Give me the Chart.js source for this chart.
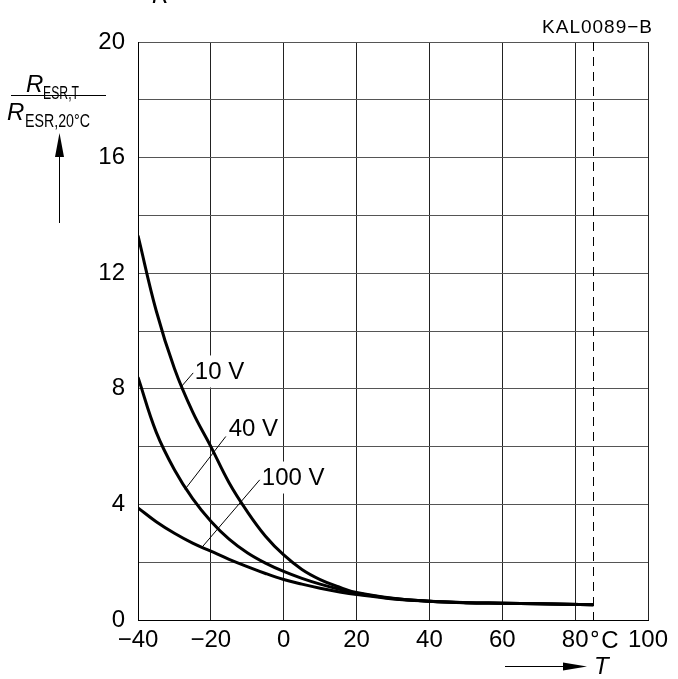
<!DOCTYPE html>
<html><head><meta charset="utf-8">
<script src="https://cdn.jsdelivr.net/npm/chart.js@4.4.1/dist/chart.umd.min.js"></script>
<style>html,body{margin:0;padding:0;background:#fff}#wrap{width:678px;height:679px}</style>
</head><body><div id="wrap"><canvas id="c" width="678" height="679"></canvas></div>
<script>
// Data
const temps = [-40,-35,-30,-25,-20,-15,-10,-5,0,5,10,15,20,30,40,50,60,70,85];
const v10  = [13.3,10.7,8.7,7.2,6.0,4.75,3.75,2.9,2.25,1.75,1.4,1.15,0.95,0.75,0.65,0.6,0.58,0.56,0.53];
const v40  = [8.4,6.5,5.2,4.2,3.42,2.8,2.33,1.97,1.68,1.44,1.24,1.07,0.93,0.74,0.65,0.6,0.58,0.56,0.53];
const v100 = [3.88,3.4,3.0,2.66,2.38,2.1,1.85,1.61,1.4,1.24,1.1,0.98,0.88,0.73,0.65,0.6,0.58,0.56,0.53];
const seriesNames = ['10 V','40 V','100 V'];
const xTicks = [-40,-20,0,20,40,60,80,100];
const yTickLabels = [0,4,8,12,16,20];
const limitTemp = 85;
// label anchor (data units): text at [tx,ty], leader from [lx0,ly0] to [lx1,ly1]
const curveLabels = [
  {text:'10 V',  tx:-24.4, ty:8.6,  lx0:-28.0, ly0:8.09, lx1:-24.85, ly1:8.55},
  {text:'40 V',  tx:-15.1, ty:6.64, lx0:-27.1, ly0:4.52, lx1:-15.9,  ly1:6.35},
  {text:'100 V', tx:-6.0,  ty:4.93, lx0:-22.55,ly0:2.50, lx1:-6.58,  ly1:4.85}
];

const FONT = "'Liberation Sans', Arial, sans-serif";
const toPts = arr => temps.map((t,i)=>({x:t,y:arr[i]}));

const deco = {
  id:'deco',
  beforeDatasetsDraw(chart){
    const {ctx, scales:{x,y}, chartArea:a} = chart;
    ctx.save();
    ctx.strokeStyle='#000'; ctx.lineWidth=1; ctx.setLineDash([9,6]);
    const xd = Math.round(x.getPixelForValue(limitTemp))+0.5;
    ctx.beginPath(); ctx.moveTo(xd,a.top); ctx.lineTo(xd,a.bottom); ctx.stroke();
    ctx.setLineDash([]);
    ctx.font = '24px '+FONT; ctx.textBaseline='middle'; ctx.textAlign='left';
    curveLabels.forEach(l=>{
      const px=x.getPixelForValue(l.tx), py=y.getPixelForValue(l.ty);
      const w=ctx.measureText(l.text).width;
      ctx.fillStyle='#fff'; ctx.fillRect(px-3,py-16,w+6,32);
      ctx.fillStyle='#000'; ctx.fillText(l.text,px,py+1);
      ctx.strokeStyle='#000'; ctx.lineWidth=1;
      ctx.beginPath();
      ctx.moveTo(x.getPixelForValue(l.lx0),y.getPixelForValue(l.ly0));
      ctx.lineTo(x.getPixelForValue(l.lx1),y.getPixelForValue(l.ly1));
      ctx.stroke();
    });
    ctx.restore();
  },
  afterDraw(chart){
    const {ctx, scales:{x,y}, chartArea:a} = chart;
    ctx.save();
    ctx.fillStyle='#000'; ctx.strokeStyle='#000';
    ctx.font='italic 24px '+FONT; ctx.textBaseline='alphabetic'; ctx.textAlign='left';
    ctx.fillText('R',152,3);
    ctx.font='19px '+FONT; ctx.textAlign='right'; ctx.textBaseline='alphabetic';
    ctx.letterSpacing='1px';
    ctx.fillText('KAL0089\u2212B',653,33);
    ctx.letterSpacing='0px';
    ctx.textAlign='left';
    ctx.font='italic 24px '+FONT; ctx.fillText('R',26,92);
    ctx.font='18px '+FONT; ctx.fillText('ESR,T',43,99,36);
    ctx.lineWidth=1; ctx.beginPath(); ctx.moveTo(11,95.5); ctx.lineTo(106,95.5); ctx.stroke();
    ctx.font='italic 24px '+FONT; ctx.fillText('R',7,120);
    ctx.font='18px '+FONT; ctx.fillText('ESR,20\u00B0C',25,127,65);
    ctx.beginPath(); ctx.moveTo(59.5,150); ctx.lineTo(59.5,223); ctx.stroke();
    ctx.beginPath(); ctx.moveTo(59.5,133); ctx.lineTo(55,157); ctx.lineTo(64,157); ctx.closePath(); ctx.fill();
    const ty = a.bottom + 21;
    ctx.font='24px '+FONT; ctx.textBaseline='middle'; ctx.textAlign='left';
    ctx.fillText('C', x.getPixelForValue(87.2), ty);
    ctx.lineWidth=1.2; ctx.beginPath(); ctx.arc(x.getPixelForValue(85.4), ty-7, 2.6, 0, Math.PI*2); ctx.stroke();
    const ay = 666.5;
    ctx.lineWidth=1; ctx.beginPath(); ctx.moveTo(505,ay); ctx.lineTo(570,ay); ctx.stroke();
    ctx.beginPath(); ctx.moveTo(587,ay); ctx.lineTo(563,ay-4); ctx.lineTo(563,ay+4); ctx.closePath(); ctx.fill();
    ctx.font='italic 24px '+FONT; ctx.textBaseline='middle';
    ctx.fillText('T',594,ay+1);
    ctx.restore();
  }
};

new Chart(document.getElementById('c'), {
  type:'line',
  data:{datasets:[v10,v40,v100].map((arr,i)=>({
    label:seriesNames[i], data:toPts(arr), borderColor:'#000', borderWidth:3,
    pointRadius:0, fill:false, tension:0.4
  }))},
  options:{
    responsive:false, animation:false, devicePixelRatio:1,
    layout:{padding:{left:0,right:30,top:42,bottom:0}},
    plugins:{legend:{display:false}, tooltip:{enabled:false}},
    scales:{
      x:{type:'linear', min:-40, max:100,
        afterBuildTicks(s){ s.ticks = xTicks.map(v=>({value:v})); },
        afterFit(s){ s.height = 59; },
        grid:{color:'#222', lineWidth:1, drawTicks:false},
        border:{display:true, color:'#000', width:1},
        ticks:{padding:6, color:'#000', font:{family:FONT, size:24},
          callback:v=> v<0 ? '\u2212'+Math.abs(v) : String(v), maxRotation:0, autoSkip:false}
      },
      y:{type:'linear', min:0, max:20,
        ticks:{stepSize:2, padding:13, color:'#000', autoSkip:false, font:{family:FONT, size:24},
          callback:v=> yTickLabels.includes(v) ? String(v) : ''},
        afterFit(s){ s.width = 138; },
        grid:{color:'#555', lineWidth:1, drawTicks:false},
        border:{display:true, color:'#000', width:1}
      }
    }
  },
  plugins:[deco]
});
</script></body></html>
